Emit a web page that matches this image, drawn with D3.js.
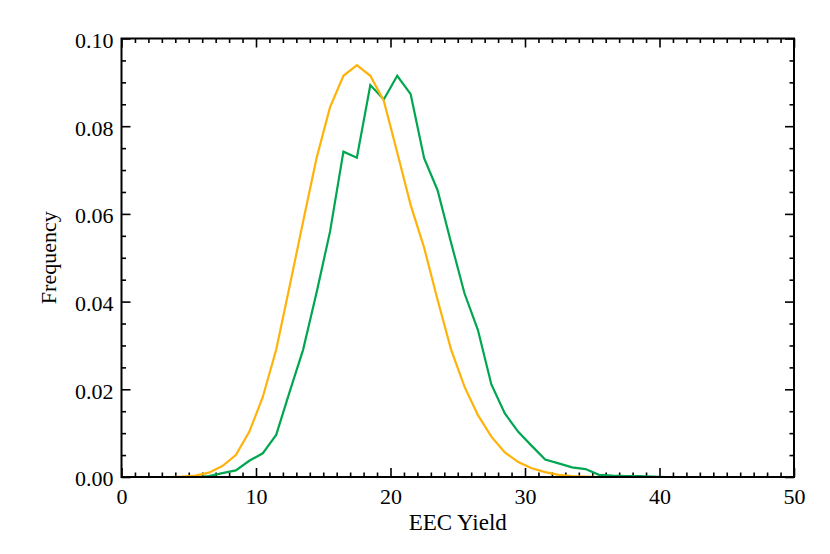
<!DOCTYPE html>
<html><head><meta charset="utf-8">
<script src="https://cdn.jsdelivr.net/npm/d3@7"></script>
<style>
html,body{margin:0;padding:0;background:#fff;}
svg{display:block;}
text{font-family:"Liberation Serif","Times New Roman",serif;fill:#000;}
</style></head>
<body>
<svg id="chart" width="830" height="554"></svg>
<script>
// bin centers (EEC Yield)
const binCenters = d3.range(0, 50).map(i => i + 0.5);
// orange series frequency per bin
const orangeValues = [
  0, 0, 0, 0, 0.0001, 0.0003, 0.0010, 0.0025, 0.0050, 0.0103,
  0.0182, 0.0290, 0.0435, 0.0582, 0.0727, 0.0843, 0.0915, 0.0939, 0.0915, 0.0858,
  0.0740, 0.0620, 0.0523, 0.0404, 0.0291, 0.0206, 0.0141, 0.0092, 0.0056, 0.0034,
  0.0020, 0.0011, 0.0005, 0.0002, 0.0001, 0, 0, 0, 0, 0,
  0, 0, 0, 0, 0, 0, 0, 0, 0, 0
];
// green series frequency per bin
const greenValues = [
  0, 0, 0, 0, 0, 0, 0.0002, 0.0009, 0.0015, 0.0037,
  0.0054, 0.0096, 0.0194, 0.0290, 0.0420, 0.0559, 0.0742, 0.0728, 0.0894, 0.0861,
  0.0915, 0.0873, 0.0727, 0.0654, 0.0535, 0.0419, 0.0335, 0.0211, 0.0145, 0.0103,
  0.0071, 0.0040, 0.0031, 0.0022, 0.0018, 0.0005, 0.0003, 0.0002, 0.0002, 0.0001,
  0, 0, 0, 0, 0, 0, 0, 0, 0, 0
];
const xMajorTicks = [0, 10, 20, 30, 40, 50];
const xMinorTicks = d3.range(0, 51, 1);
const yMajorTicks = [0, 0.02, 0.04, 0.06, 0.08, 0.10];
const yMinorTicks = d3.range(0, 21).map(i => i * 0.005);
const xTitle = "EEC Yield";
const yTitle = "Frequency";

const svg = d3.select("#chart");
const L = 121.5, R = 794, T = 38.5, B = 477;
const x = d3.scaleLinear().domain([0, 50]).range([L, R]);
const y = d3.scaleLinear().domain([0, 0.10]).range([B, T]);

const majorLen = 9, minorLen = 4.5;
const axisG = svg.append("g");

function ticks(axisFn, scale, vals, len, transform, labels, pad) {
  const a = axisFn(scale).tickValues(vals).tickSizeInner(-len).tickSizeOuter(0).tickPadding(pad || 0);
  if (labels) a.tickFormat(labels); else a.tickFormat("");
  const g = axisG.append("g").attr("transform", transform).call(a);
  g.select(".domain").remove();
  g.selectAll("line").attr("stroke", "#000").attr("stroke-width", 1.6);
  return g;
}
// bottom
ticks(d3.axisBottom, x, xMinorTicks.filter(v => v % 10 !== 0), minorLen, `translate(0,${B})`);
const gb = ticks(d3.axisBottom, x, xMajorTicks, majorLen, `translate(0,${B})`, d3.format("d"), 11);
gb.selectAll("text").attr("font-size", 22).attr("font-family", "Liberation Serif");
// top
ticks(d3.axisTop, x, xMinorTicks.filter(v => v % 10 !== 0), minorLen, `translate(0,${T})`);
ticks(d3.axisTop, x, xMajorTicks, majorLen, `translate(0,${T})`);
// left
ticks(d3.axisLeft, y, yMinorTicks.filter((v, i) => i % 4 !== 0), minorLen, `translate(${L},0)`);
const gl = ticks(d3.axisLeft, y, yMajorTicks, majorLen, `translate(${L},0)`, d3.format(".2f"), 8);
gl.selectAll("text").attr("font-size", 22).attr("font-family", "Liberation Serif").attr("dy", "0.4em");
// right
ticks(d3.axisRight, y, yMinorTicks.filter((v, i) => i % 4 !== 0), minorLen, `translate(${R},0)`);
ticks(d3.axisRight, y, yMajorTicks, majorLen, `translate(${R},0)`);

// lines
const line = d3.line().x(d => x(d[0])).y(d => y(d[1]));
svg.append("path").datum(binCenters.map((c, i) => [c, greenValues[i]]))
  .attr("d", line).attr("fill", "none").attr("stroke", "#00a650").attr("stroke-width", 2.2)
  .attr("stroke-linejoin", "miter");
svg.append("path").datum(binCenters.map((c, i) => [c, orangeValues[i]]))
  .attr("d", line).attr("fill", "none").attr("stroke", "#ffb20a").attr("stroke-width", 2.2)
  .attr("stroke-linejoin", "miter");

// frame
svg.append("rect").attr("x", L).attr("y", T).attr("width", R - L).attr("height", B - T)
  .attr("fill", "none").attr("stroke", "#000").attr("stroke-width", 2);

// titles
svg.append("text").attr("x", (L + R) / 2).attr("y", 530).attr("text-anchor", "middle")
  .attr("font-size", 23).text(xTitle);
svg.append("text").attr("transform", `translate(56,${(T + B) / 2}) rotate(-90)`)
  .attr("text-anchor", "middle").attr("font-size", 22).text(yTitle);
</script>
</body></html>
